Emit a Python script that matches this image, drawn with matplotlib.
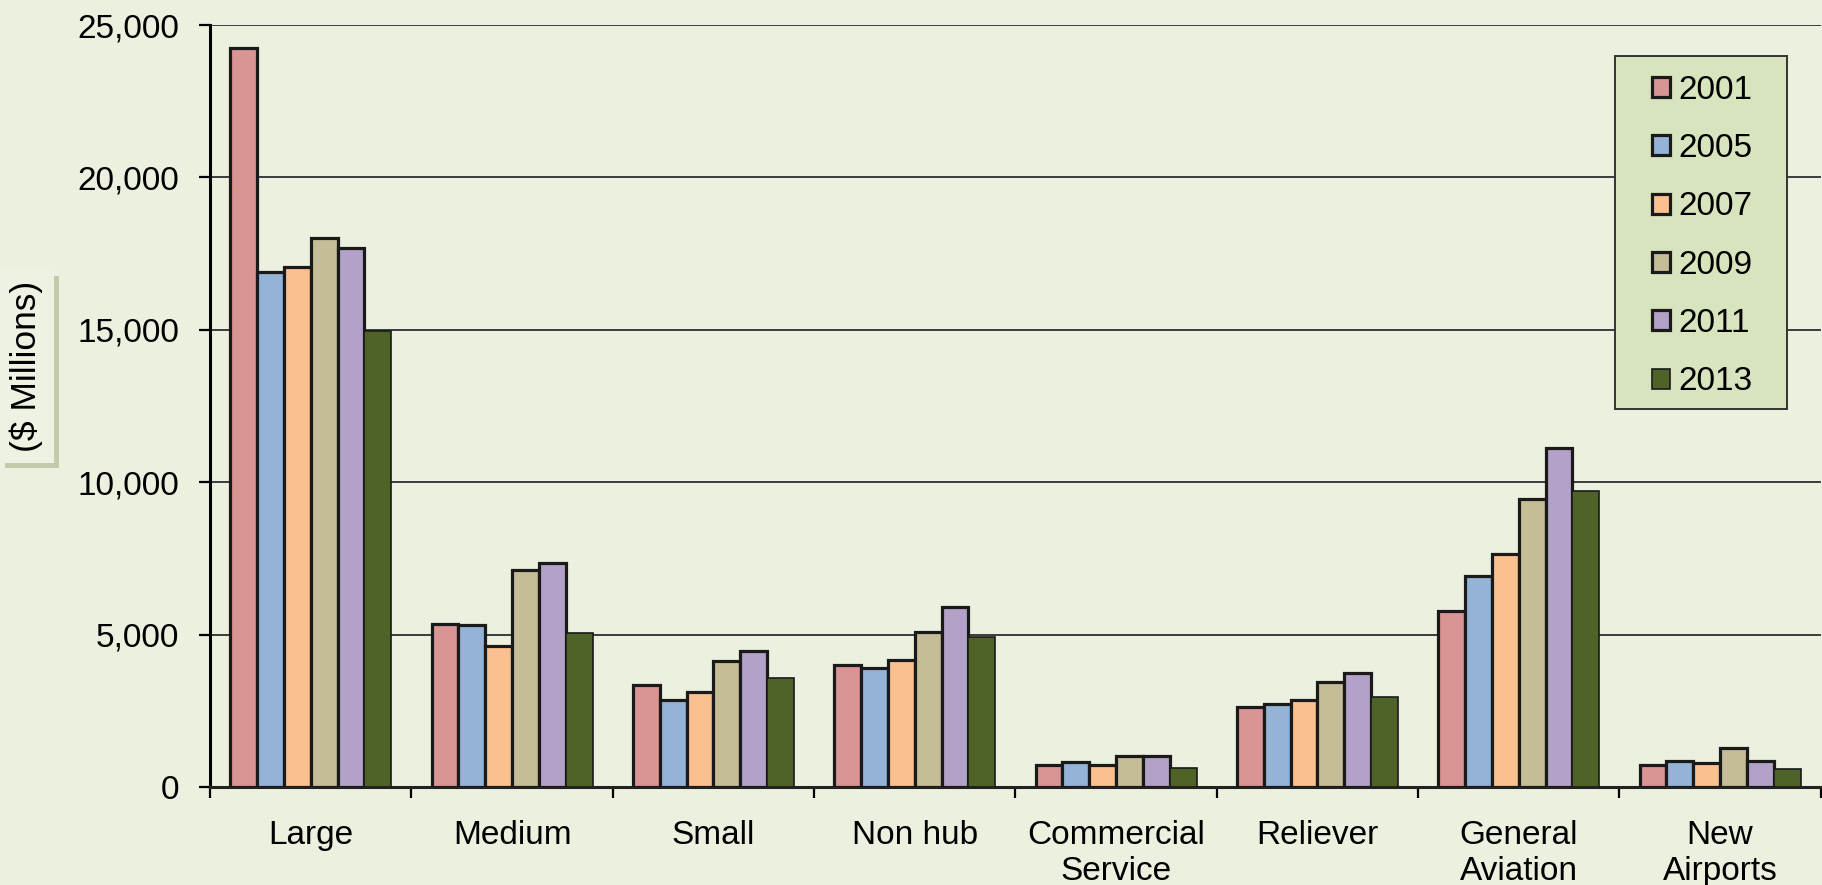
import matplotlib.pyplot as plt
import matplotlib.patheffects as pe
from matplotlib.patches import Rectangle
import numpy as np

plt.rcParams['font.family'] = ['Liberation Sans', 'DejaVu Sans']

categories = ['Large', 'Medium', 'Small', 'Non hub', 'Commercial\nService',
              'Reliever', 'General\nAviation', 'New\nAirports']
years = ['2001', '2005', '2007', '2009', '2011', '2013']

# $ millions per airport category
v2001 = [24250, 5360, 3350, 4000, 730, 2620, 5790, 730]
v2005 = [16900, 5310, 2860, 3890, 830, 2730, 6910, 840]
v2007 = [17070, 4620, 3130, 4180, 730, 2840, 7630, 790]
v2009 = [18010, 7130, 4140, 5080, 1010, 3450, 9460, 1280]
v2011 = [17680, 7340, 4460, 5910, 1010, 3740, 11130, 840]
v2013 = [14950, 5040, 3590, 4920, 630, 2970, 9700, 590]
series = [v2001, v2005, v2007, v2009, v2011, v2013]

colors = ['#D99594', '#95B3D7', '#FAC090', '#C4BD97', '#B2A2C7', '#4F6228']
bg = '#EBF0DF'

fig = plt.figure(figsize=(18.22, 8.85), dpi=100, facecolor=bg)
ax = fig.add_axes([0.1153, 0.1107, 0.884, 0.861])
ax.set_facecolor(bg)

x = np.arange(len(categories))
w = 0.8 / len(years)
for j, (yr, vals, c) in enumerate(zip(years, series, colors)):
    lw = 1.2 if yr == '2013' else 2.3
    ax.bar(x + (j - 2.5) * w, vals, width=w, color=c, edgecolor='#1a1a1a',
           linewidth=lw, label=yr, zorder=3)

ax.set_xlim(-0.5, len(categories) - 0.5)
ax.set_ylim(0, 25000)
ax.set_yticks(np.arange(0, 25001, 5000))
ax.set_yticklabels([f'{v:,}' for v in range(0, 25001, 5000)])
ax.yaxis.grid(True, color='#3c3c3c', linewidth=1.4, zorder=0)
ax.set_axisbelow(True)

ax.set_xticks(x)
ax.set_xticklabels(categories)
ax.set_xticks(np.arange(-0.5, len(categories), 1), minor=True)
ax.tick_params(axis='x', which='major', length=0, pad=24, labelsize=24)
ax.tick_params(axis='x', which='minor', length=8, width=1.6, direction='out')
ax.tick_params(axis='y', length=8, width=1.6, pad=14, labelsize=24)

for side in ['top', 'right']:
    ax.spines[side].set_visible(False)
ax.spines['left'].set_linewidth(2.2)
ax.spines['bottom'].set_linewidth(2.2)
ax.spines['bottom'].set_color('#222222')

# legend box drawn separately so the padding can be wider than tall
ax.add_patch(Rectangle((1615 / 1822, 1 - 409 / 885), 172 / 1822, 353 / 885,
                       transform=fig.transFigure, fc='#D7E4BD',
                       ec='#333333', lw=1.4, zorder=5, clip_on=False))
leg = ax.legend(loc='center', bbox_to_anchor=(1702 / 1822, 1 - 236 / 885),
                bbox_transform=fig.transFigure, fontsize=24,
                handlelength=0.55, handleheight=0.55, handletextpad=0.25,
                labelspacing=0.82, borderpad=0, frameon=False, borderaxespad=0)
leg.set_zorder(6)

ylab = fig.text(0.0145, 0.586, '($ Millions)', rotation=90, fontsize=25.5,
                ha='center', va='center',
                bbox=dict(boxstyle='square,pad=0.3', fc='#EDF2E2', ec='none'))
ylab.get_bbox_patch().set_path_effects(
    [pe.SimplePatchShadow(offset=(4, -4), shadow_rgbFace='#A8B488', alpha=0.6),
     pe.Normal()])

plt.savefig('out.png', dpi=100, facecolor=bg)
